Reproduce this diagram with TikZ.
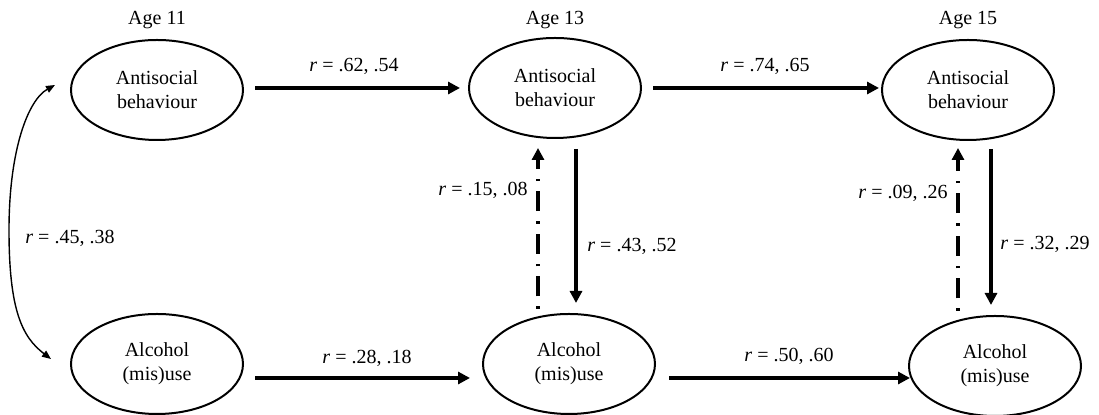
\documentclass[tikz,border=0pt]{standalone}
\usepackage{fontspec}
\setmainfont{Liberation Serif}
\usetikzlibrary{shapes.geometric,arrows.meta,calc}
\begin{document}
\begin{tikzpicture}[x=0.5pt,y=-0.5pt,
  every node/.style={font=\fontsize{10}{12}\selectfont},
  var/.style={ellipse,draw,line width=1pt,minimum width=86pt,minimum height=50pt,inner sep=0pt,align=center},
  heavy/.style={line width=1.75pt,-{Triangle[length=6pt,width=6pt]}},
  crossdash/.style={heavy,dash pattern=on 1.3pt off 5pt on 10pt off 5pt},
  corr/.style={line width=0.7pt,{Triangle[length=4.5pt,width=3.6pt]}-{Triangle[length=4.5pt,width=3.6pt]}},
  lab/.style={inner sep=0pt}]
\useasboundingbox (0,0) rectangle (1099,415);
% age labels
\node[lab] (age11) at (157,20) {Age 11};
\node[lab] (age13) at (555,20) {Age 13};
\node[lab] (age15) at (968,20) {Age 15};
% variables
\node[var] (a11) at (157,90) {Antisocial\\behaviour};
\node[var] (a13) at (555,88) {Antisocial\\behaviour};
\node[var] (a15) at (968,90) {Antisocial\\behaviour};
\node[var] (c11) at (157,364) {Alcohol\\(mis)use};
\node[var] (c13) at (569,364) {Alcohol\\(mis)use};
\node[var] (c15) at (995,366) {Alcohol\\(mis)use};
% horizontal paths
\draw[heavy] ($(a11.east)+(11,-2)$) -- ($(a13.west)+(-8,0)$);
\draw[heavy] ($(a13.east)+(11,0)$) -- ($(a15.west)+(-2,-2)$);
\draw[heavy] ($(c11.east)+(11,14)$) -- ($(c13.west)+(-12,14)$);
\draw[heavy] ($(c13.east)+(13,14)$) -- ($(c15.west)+(2,12)$);
% cross-lagged paths
\draw[crossdash] ($(c13.north)+(-31,-4)$) -- ($(a13.south)+(-17,9)$);
\draw[heavy] ($(a13.south)+(21,10)$) -- ($(c13.north)+(7,-10)$);
\draw[crossdash] ($(c15.north)+(-37,-4)$) -- ($(a15.south)+(-10,7)$);
\draw[heavy] ($(a15.south)+(23,8)$) -- ($(c15.north)+(-4,-10)$);
% correlation at age 11
\coordinate (cm) at (9,230);
\draw[corr] ($(c11.west)+(-19,-5)$) .. controls (22,337) and (9,310) .. (cm) .. controls (9,150) and (28,100) .. ($(a11.west)+(-15,-5)$);
% labels
\node[lab] (l1) at (354,66) {\textit{r} = .62, .54};
\node[lab] (l2) at (765,66) {\textit{r} = .74, .65};
\node[lab] (l3) at (367,358) {\textit{r} = .28, .18};
\node[lab] (l4) at (789,356) {\textit{r} = .50, .60};
\node[lab,anchor=east] (l5) at (528,190) {\textit{r} = .15, .08};
\node[lab,anchor=west] (l6) at (587,246) {\textit{r} = .43, .52};
\node[lab,anchor=east] (l7) at (948,193) {\textit{r} = .09, .26};
\node[lab,anchor=west] (l8) at (1000,244) {\textit{r} = .32, .29};
\node[lab,anchor=west] (l9) at (25,238) {\textit{r} = .45, .38};
\end{tikzpicture}
\end{document}
